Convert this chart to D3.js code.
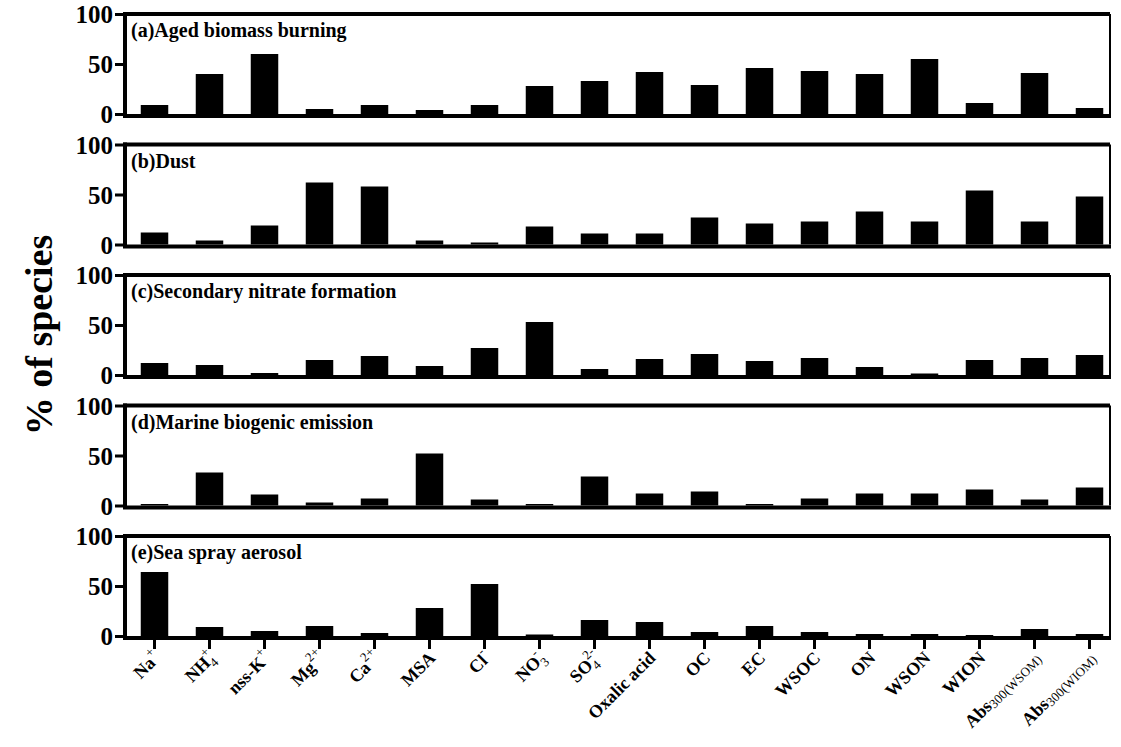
<!DOCTYPE html>
<html><head><meta charset="utf-8">
<script src="https://cdn.jsdelivr.net/npm/d3@7"></script>
<style>body{margin:0;background:#fff}svg{display:block}</style>
</head><body>
<script>
const categories = ["Na+","NH4+","nss-K+","Mg2+","Ca2+","MSA","Cl-","NO3-","SO42-","Oxalic acid","OC","EC","WSOC","ON","WSON","WION","Abs300(WSOM)","Abs300(WIOM)"];
const panelTitles = ["(a)Aged biomass burning","(b)Dust","(c)Secondary nitrate formation","(d)Marine biogenic emission","(e)Sea spray aerosol"];
const agedBiomass = [9,40,60,5,9,4,9,28,33,42,29,46,43,40,55,11,41,6];
const dust        = [12,4,19,62,58,4,2,18,11,11,27,21,23,33,23,54,23,48];
const secNitrate  = [12,10,2,15,19,9,27,53,6,16,21,14,17,8,1.5,15,17,20];
const marineBio   = [1.5,33,11,3,7,52,6,1.5,29,12,14,1.5,7,12,12,16,6,18];
const seaSpray    = [64,9,5,10,3,28,52,1.5,16,14,4,10,4,2,2,1,7,2];
const yTicks = [0,50,100];
const series = [agedBiomass, dust, secNitrate, marineBio, seaSpray];

const W = 1121, H = 747;
const font = "'Liberation Serif','Times New Roman',serif";
const svg = d3.select("body").append("svg").attr("width", W).attr("height", H)
  .style("font-family", font);

const frameL = 125, frameR = 1110;
const x = d3.scaleBand().domain(categories).range([127, 1117]).paddingInner(0.5).paddingOuter(0.25);
const panelTop = i => 14 + i * 130.5;
const panelH = 100;

series.forEach((vals, i) => {
  const top = panelTop(i);
  const y = d3.scaleLinear().domain([0, 100]).range([top + panelH, top]);
  const g = svg.append("g");
  g.selectAll("rect.bar").data(vals).join("rect")
    .attr("class", "bar")
    .attr("x", (d, j) => x(categories[j]))
    .attr("width", x.bandwidth())
    .attr("y", d => y(d))
    .attr("height", d => y(0) - y(d))
    .attr("fill", "#000");
  g.append("line").attr("x1", frameL - 2).attr("x2", frameR).attr("y1", y(100)).attr("y2", y(100))
    .attr("stroke", "#000").attr("stroke-width", 4);
  g.append("line").attr("x1", frameR).attr("x2", frameR).attr("y1", y(100)).attr("y2", y(0))
    .attr("stroke", "#000").attr("stroke-width", 2);
  g.append("line").attr("x1", frameL).attr("x2", frameL).attr("y1", y(100) - 2).attr("y2", y(0) + 2)
    .attr("stroke", "#000").attr("stroke-width", 4);
  g.append("line").attr("x1", frameL - 2).attr("x2", frameR + 1).attr("y1", y(0) + 2).attr("y2", y(0) + 2)
    .attr("stroke", "#000").attr("stroke-width", 4);
  const ax = g.append("g").attr("transform", `translate(${frameL - 2},0)`)
    .call(d3.axisLeft(y).tickValues(yTicks).tickSize(8).tickPadding(2));
  ax.select(".domain").remove();
  ax.selectAll(".tick line").attr("stroke-width", 3);
  ax.selectAll(".tick text").style("font-family", font).style("font-weight", "bold")
    .style("font-size", "25px").attr("fill", "#000").attr("dy", "0.34em");
  g.append("text").attr("x", frameL + 6).attr("y", top + 23)
    .attr("font-size", 20).attr("font-weight", "bold").text(panelTitles[i]);

  if (i === series.length - 1) {
    const xa = g.append("g").attr("transform", `translate(0,${y(0) + 2})`)
      .call(d3.axisBottom(x).tickSize(11).tickFormat(""));
    xa.select(".domain").remove();
    xa.selectAll(".tick line").attr("stroke-width", 3);
  }
});

// label pieces: [text, kind]; n = normal bold, sup/sub = scripts, sm = small plain
const rich = {
  "Na+": [["Na","n"],["+","sup"]],
  "NH4+": [["NH","n"],["4","sub"],["+","sup"]],
  "nss-K+": [["nss-K","n"],["+","sup"]],
  "Mg2+": [["Mg","n"],["2+","sup"]],
  "Ca2+": [["Ca","n"],["2+","sup"]],
  "Cl-": [["Cl","n"],["-","sup"]],
  "NO3-": [["NO","n"],["3","sub"],["-","sup"]],
  "SO42-": [["SO","n"],["4","sub"],["2-","sup"]],
  "Abs300(WSOM)": [["Abs","n"],["300(WSOM)","sm"]],
  "Abs300(WIOM)": [["Abs","n"],["300(WIOM)","sm"]]
};
const lastY = panelTop(4) + panelH;
const lab = svg.append("g");
const meas = svg.append("text").attr("visibility", "hidden");
function width(s, size, bold) {
  meas.attr("font-size", size).attr("font-weight", bold ? "bold" : "normal").text(s);
  return meas.node().getComputedTextLength();
}
categories.forEach(c => {
  const cx = x(c) + x.bandwidth() / 2;
  const parts = rich[c] || [[c, "n"]];
  const pieces = [];
  let pos = 0, lastScriptStart = null;
  parts.forEach(([s, k]) => {
    if (k === "n") {
      const w = width(s, 18, true);
      pieces.push({s, x: pos, y: 0, size: 18, bold: true}); pos += w; lastScriptStart = null;
    } else if (k === "sm") {
      const w = width(s, 13, false);
      pieces.push({s, x: pos, y: 2, size: 13, bold: false}); pos += w;
    } else if (k === "sub") {
      const w = width(s, 13, false);
      pieces.push({s, x: pos, y: 5, size: 13, bold: false}); lastScriptStart = pos; pos += w;
    } else if (k === "sup") {
      const w = width(s, 13, false);
      const sx = lastScriptStart !== null ? lastScriptStart : pos;
      pieces.push({s, x: sx, y: -9, size: 13, bold: false});
      pos = Math.max(pos, sx + w);
    }
  });
  const total = pos;
  const gg = lab.append("g")
    .attr("transform", `translate(${cx + 7},${lastY + 23}) rotate(-45) translate(${-total},0)`);
  pieces.forEach(p => {
    gg.append("text").attr("x", p.x).attr("y", p.y)
      .attr("font-size", p.size).attr("font-weight", p.bold ? "bold" : "normal").text(p.s);
  });
});
meas.remove();

svg.append("text").attr("transform", `translate(52,335) rotate(-90)`)
  .attr("text-anchor", "middle").attr("font-size", 38).attr("font-weight", "bold")
  .text("% of species");
</script>
</body></html>
